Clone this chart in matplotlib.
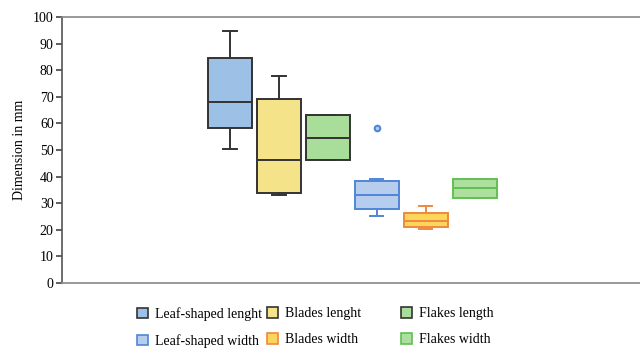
import matplotlib
matplotlib.use("Agg")
import matplotlib.pyplot as plt
from matplotlib.patches import Patch

plt.rcParams['font.family'] = ['Liberation Serif', 'DejaVu Serif']

labels = ["Leaf-shaped lenght", "Blades lenght", "Flakes length",
          "Leaf-shaped width", "Blades width", "Flakes width"]
q1 = [58.2, 34.0, 46.2, 27.7, 20.9, 32.1]
med = [68.2, 46.2, 54.6, 33.1, 23.4, 35.6]
q3 = [84.5, 69.0, 63.0, 38.3, 26.2, 39.1]
whislo = [50.3, 33.0, 46.2, 25.2, 20.3, 32.1]
whishi = [94.7, 77.8, 63.0, 39.2, 29.0, 39.1]
fliers = [[], [], [], [58.2], [], []]

faces = ["#9dc0e6", "#f5e38a", "#a8de9a", "#b7cdee", "#fbd65a", "#addf9f"]
edges = ["#333333", "#333333", "#333333", "#4f86d6", "#f0883e", "#62c052"]

fig = plt.figure(figsize=(6.4, 3.48), dpi=100)
ax = fig.add_axes([62/640, 1-283/348, 1-62/640, (283-17)/348])

positions = list(range(1, 7))
for i in range(6):
    st = [dict(med=med[i], q1=q1[i], q3=q3[i], whislo=whislo[i], whishi=whishi[i], fliers=fliers[i])]
    lw = 1.4
    ax.bxp(st, positions=[positions[i]], widths=0.9, capwidths=0.27, patch_artist=True,
           showfliers=True,
           boxprops=dict(facecolor=faces[i], edgecolor=edges[i], linewidth=lw),
           medianprops=dict(color=edges[i], linewidth=lw),
           whiskerprops=dict(color=edges[i], linewidth=lw),
           capprops=dict(color=edges[i], linewidth=lw),
           flierprops=dict(marker='o', markersize=4, markerfacecolor=faces[i],
                           markeredgecolor=edges[i], markeredgewidth=1.5))

ax.set_xlim(-2.436, 9.38)
ax.set_ylim(0, 100)
ax.set_yticks(range(0, 101, 10))
ax.set_xticks([])
ax.tick_params(axis='y', direction='out', length=4, width=1.2, color='#444444',
               labelsize=10, pad=2)
ax.spines['right'].set_visible(False)
ax.spines['left'].set_color('#555555')
ax.spines['left'].set_linewidth(1.2)
for s in ['top', 'bottom']:
    ax.spines[s].set_color('#888888')
    ax.spines[s].set_linewidth(1.2)
ax.set_ylabel("Dimension in mm", fontsize=10, labelpad=5)

cols_x = [137/640, 267/640, 401/640]
for c in range(3):
    hs = [Patch(facecolor=faces[c], edgecolor=edges[c], linewidth=1.2),
          Patch(facecolor=faces[c+3], edgecolor=edges[c+3], linewidth=1.2)]
    fig.legend(hs, [labels[c], labels[c+3]], loc='upper left',
               bbox_to_anchor=(cols_x[c], 1-307/348), frameon=False, fontsize=10,
               handlelength=0.8, handleheight=0.8, handletextpad=0.5,
               labelspacing=0.95, borderaxespad=0, borderpad=0)

fig.savefig("out.png", dpi=100)
